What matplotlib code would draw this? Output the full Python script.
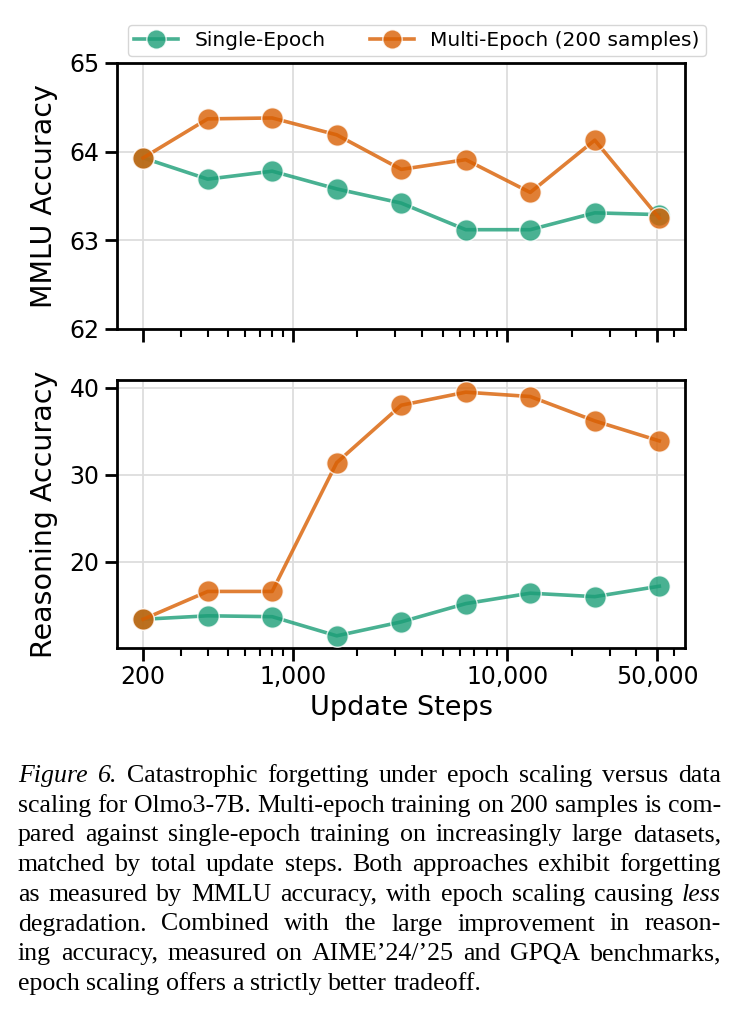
import numpy as np
import matplotlib
matplotlib.use("Agg")
import matplotlib.pyplot as plt
from matplotlib.ticker import FixedLocator, LogLocator, NullFormatter, FixedFormatter

# data
steps = [200, 400, 800, 1600, 3200, 6400, 12800, 25600, 51200]
mmlu_single = [63.93, 63.69, 63.78, 63.58, 63.42, 63.12, 63.12, 63.31, 63.29]
mmlu_multi = [63.93, 64.37, 64.38, 64.19, 63.80, 63.91, 63.54, 64.13, 63.25]
reason_single = [13.4, 13.8, 13.7, 11.5, 13.1, 15.2, 16.4, 16.0, 17.2]
reason_multi = [13.4, 16.6, 16.6, 31.4, 38.0, 39.5, 39.0, 36.2, 33.9]

xticks = [200, 1000, 10000, 50000]
xticklabels = ["200", "1,000", "10,000", "50,000"]

teal = "#1b9e77"
orange = "#d95f02"

W, H = 739, 1011
fig = plt.figure(figsize=(W / 100, H / 100), dpi=100)

ax1 = fig.add_axes([117 / W, 1 - 329 / H, 568 / W, 266 / H])
ax2 = fig.add_axes([117 / W, 1 - 648 / H, 568 / W, 268 / H], sharex=ax1)

for ax, ys, ym in [(ax1, mmlu_single, mmlu_multi), (ax2, reason_single, reason_multi)]:
    ax.plot(steps, ys, color=teal, alpha=0.8, lw=2.6, marker="o", ms=15.5,
            mec="white", mew=1.0, label="Single-Epoch", zorder=3)
    ax.plot(steps, ym, color=orange, alpha=0.8, lw=2.6, marker="o", ms=15.5,
            mec="white", mew=1.0, label="Multi-Epoch (200 samples)", zorder=4)
    ax.set_xscale("log")
    ax.grid(True, which="major", color="#dddddd", lw=1.3)
    ax.set_axisbelow(True)
    for s in ax.spines.values():
        s.set_linewidth(2.0)
    ax.tick_params(which="major", length=9, width=2.0, labelsize=17)
    ax.tick_params(which="minor", length=6, width=1.5)

ax1.xaxis.set_major_locator(FixedLocator(xticks))
ax1.xaxis.set_minor_locator(LogLocator(base=10, subs=np.arange(2, 10)))
ax1.xaxis.set_major_formatter(FixedFormatter(xticklabels))
ax1.xaxis.set_minor_formatter(NullFormatter())
ax1.set_xlim(151, 67500)
plt.setp(ax1.get_xticklabels(), visible=False)

ax1.set_ylim(62, 65)
ax1.set_yticks([62, 63, 64, 65])
ax2.set_yticks([20, 30, 40])
ax2.set_ylim(10.1, 40.9)

ax1.set_ylabel("MMLU Accuracy", fontsize=20.5)
ax2.set_ylabel("Reasoning Accuracy", fontsize=20.5)
ax2.set_xlabel("Update Steps", fontsize=19.5)
ax1.yaxis.set_label_coords(-0.104, 0.5)
ax2.yaxis.set_label_coords(-0.104, 0.5)

ax1.legend(loc="center", bbox_to_anchor=(0.528, 1.083), ncol=2, fontsize=14.5,
           frameon=True, fancybox=True, edgecolor="#cccccc", columnspacing=2.2,
           handlelength=2.2, borderpad=0.3, markerscale=0.9)

# caption, justified word by word
caption = [
    [("Figure 6.", "italic"), ("Catastrophic forgetting under epoch scaling versus data", "normal")],
    [("scaling for Olmo3-7B. Multi-epoch training on 200 samples is com-", "normal")],
    [("pared against single-epoch training on increasingly large datasets,", "normal")],
    [("matched by total update steps. Both approaches exhibit forgetting", "normal")],
    [("as measured by MMLU accuracy, with epoch scaling causing", "normal"), ("less", "italic")],
    [("degradation.  Combined with the large improvement in reason-", "normal")],
    [("ing accuracy, measured on AIME\u201924/\u201925 and GPQA benchmarks,", "normal")],
    [("epoch scaling offers a strictly better tradeoff.", "normal")],
]
cap_left, cap_right = 18, 721
cap_top = 782
cap_step = 29.7
cap_size = 18.6
renderer = fig.canvas.get_renderer()
for i, line in enumerate(caption):
    words = []
    for chunk, style in line:
        for w in chunk.split():
            words.append((w, style))
    y = 1 - (cap_top + i * cap_step) / H
    texts = []
    widths = []
    for w, style in words:
        t = fig.text(0, y, w, family="Liberation Serif", style=style,
                     fontsize=cap_size, va="baseline", ha="left")
        bb = t.get_window_extent(renderer)
        texts.append(t)
        widths.append(bb.width)
    if i < len(caption) - 1:
        gap = (cap_right - cap_left - sum(widths)) / (len(words) - 1)
    else:
        gap = cap_size * 0.25 * 100 / 72
    x = cap_left
    for t, wd in zip(texts, widths):
        t.set_x(x / W)
        x += wd + gap

fig.savefig("out.png", dpi=100)
